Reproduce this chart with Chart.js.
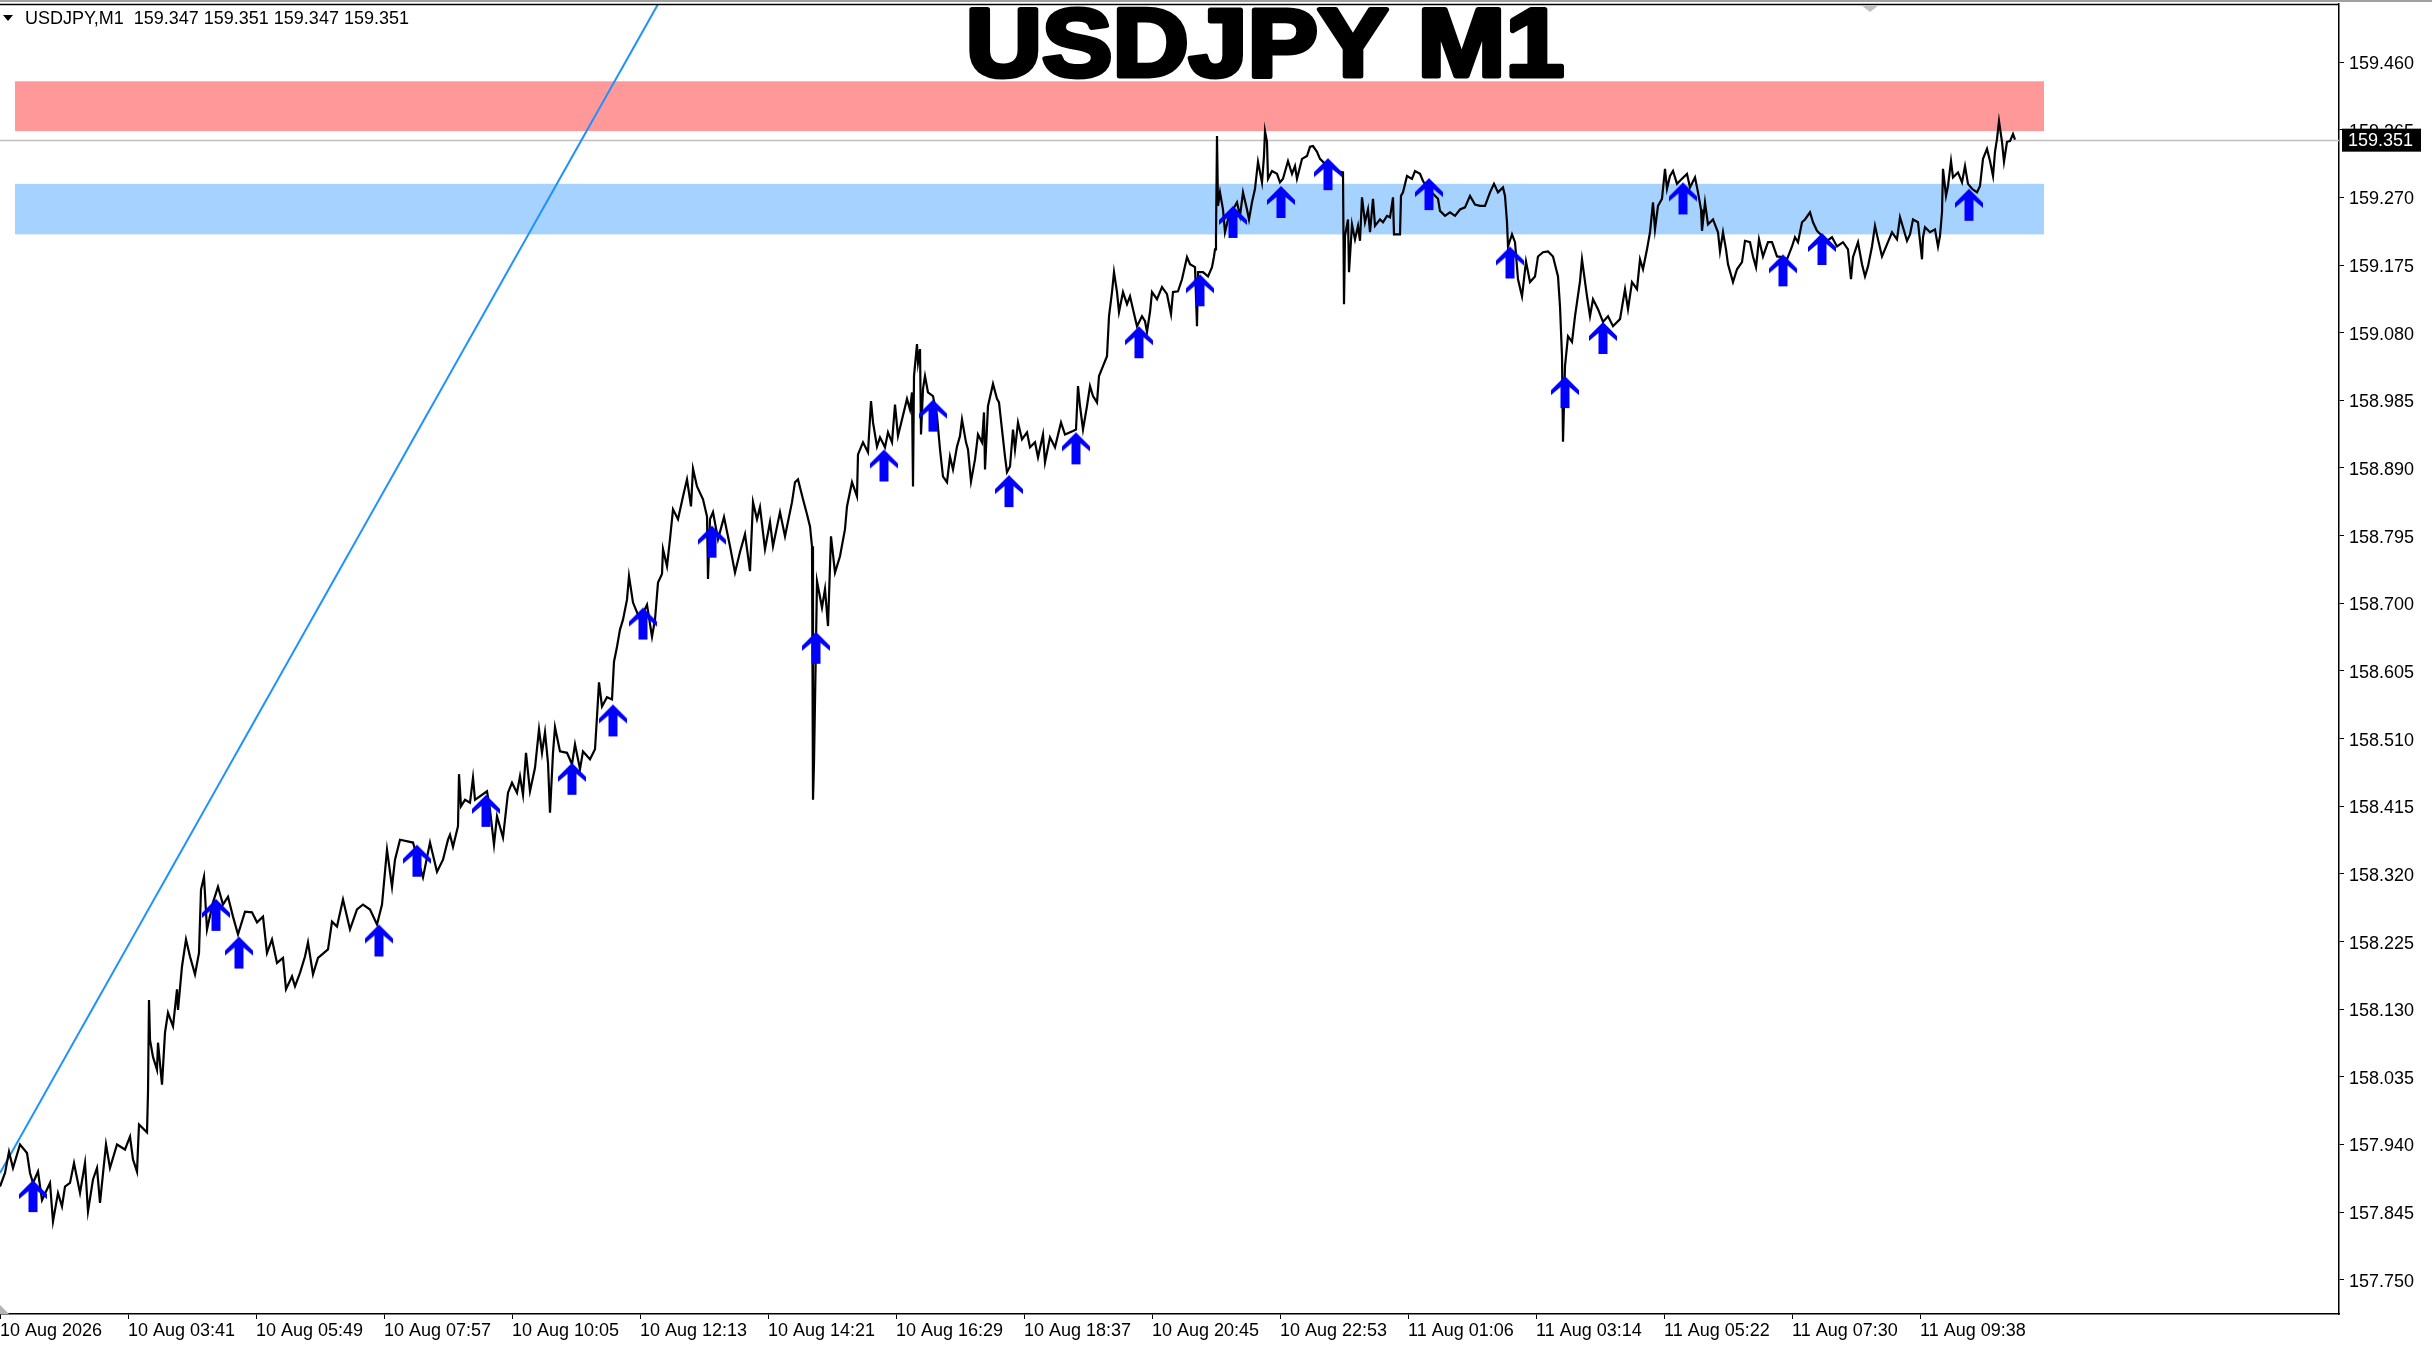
<!DOCTYPE html>
<html>
<head>
<meta charset="utf-8">
<title>USDJPY M1</title>
<script src="https://cdn.jsdelivr.net/npm/chart.js@4.4.1/dist/chart.umd.min.js"></script>
<style>
  html, body { margin: 0; padding: 0; background: #fff; overflow: hidden; }
  #wrap { position: relative; width: 2432px; height: 1348px; }
</style>
</head>
<body>
<div id="wrap"><canvas id="usdjpy-chart"></canvas></div>
<script>
// x values are minutes from the first bar (1 bar per minute)
const timeTicks = [0, 128, 256, 384, 512, 640, 768, 896, 1024, 1152, 1280, 1408, 1536, 1664, 1792, 1920];
const timeLabels = [
  "10 Aug 2026", "10 Aug 03:41", "10 Aug 05:49", "10 Aug 07:57", "10 Aug 10:05",
  "10 Aug 12:13", "10 Aug 14:21", "10 Aug 16:29", "10 Aug 18:37", "10 Aug 20:45",
  "10 Aug 22:53", "11 Aug 01:06", "11 Aug 03:14", "11 Aug 05:22", "11 Aug 07:30",
  "11 Aug 09:38"
];
const priceTicks = [
  157.750, 157.845, 157.940, 158.035, 158.130, 158.225, 158.320, 158.415, 158.510, 158.605,
  158.700, 158.795, 158.890, 158.985, 159.080, 159.175, 159.270, 159.365, 159.460
];

// price trace
const traceMinutes = [
  // 10 Aug early
  0,5,9,13,20,27,30,33,38,42,
  50,53,58,62,65,70,74,80,85,88,
  93,97,100,106,110,117,125,130,133,137,
  139,147,148,149,150,153,157,158,162,165,
  168,173,177,178,182,186,190,195,199,201,
  204,207,213,218,223,228,233,238,245,252,
  257,263,267,272,277,283,286,292,295,300,
  305,308,313,318,328,332,337,343,350,357,
  363,370,377,382,387,392,395,400,413,423,
  430,437,443,448,
  // 10 Aug midday
  450,453,458,459,461,465,470,473,475,487,
  490,494,497,503,508,512,517,520,523,526,
  530,535,539,542,545,548,550,553,555,560,
  567,572,575,580,583,590,595,597,599,602,
  607,612,614,617,620,623,627,629,633,640,
  647,652,655,658,662,663,667,670,673,678,
  683,687,691,693,697,703,707,708,710,713,
  718,724,730,735,740,745,750,753,757,760,
  765,770,773,780,785,792,795,798,803,807,
  810,812,813,814,817,822,825,828,831,835,
  840,845,847,852,857,858,863,868,
  // 10 Aug afternoon / evening
  871,873,877,880,885,888,892,895,898,902,
  907,910,912,913,914,917,918,920,921,923,
  925,928,933,937,940,943,947,950,953,957,
  960,962,966,968,971,975,978,982,984,985,
  988,993,997,999,1002,1005,1007,1010,1013,1015,
  1018,1022,1027,1030,1035,1038,1043,1045,1050,1055,
  1061,1065,1073,1076,1078,1080,1083,1087,1090,1093,
  1097,1099,1103,1107,1109,1112,1114,1117,1119,1123,
  1127,1130,1133,1137,1142,1145,1147,1150,1152,1157,
  1162,1167,1171,1173,1178,1182,1187,1190,1195,1197,
  1198,1203,1208,1212,1214,
  // 10 Aug night / 11 Aug early
  1215,1216,1217,1218,1220,1223,1225,1228,1233,1237,
  1240,1243,1247,1249,1252,1255,1258,1262,1264,1265,
  1267,1268,1272,1277,1280,1283,1288,1292,1295,1297,
  1302,1307,1310,1313,1317,1320,1325,1332,1337,1343,
  1344,1345,1348,1349,1352,1355,1358,1360,1362,1365,
  1368,1370,1373,1375,1380,1383,1387,1390,1393,1394,
  1400,1401,1403,1407,1412,1415,1420,1423,1428,1433,
  1438,1440,1445,1450,1455,1460,1465,1470,1475,1480,
  1485,1490,1494,1498,1503,1505,1507,1508,1512,1515,
  1518,1522,1526,1530,1535,1538,1543,1548,1553,1558,
  1560,1562,1563,1565,1568,1572,1575,1580,1582,1587,
  1590,1593,1598,1603,1608,1613,1620,1625,1628,1632,
  1637,1640,
  // 11 Aug morning
  1643,1647,1650,1653,1655,1658,1662,1665,1667,1670,
  1673,1677,1682,1687,1690,1695,1698,1701,1702,1705,
  1708,1713,1718,1720,1723,1726,1728,1733,1737,1742,
  1745,1750,1753,1756,1759,1763,1768,1772,1777,1782,
  1787,1792,1795,1798,1802,1805,1810,1813,1817,1822,
  1827,1832,1837,1843,1848,1851,1853,1858,1862,1865,
  1868,1872,1875,1878,1882,1887,1892,1897,1900,1903,
  1907,1910,1913,1918,1922,1923,1925,1930,1935,1938,
  1940,1942,1943,1946,1948,1951,1953,1958,1962,1965,
  1968,1972,1977,1980,1983,1987,1990,1993,1995,1997,
  1999,2002,2004,2007,2010,2013,2015
];
const tracePrices = [
  157.881,157.900,157.930,157.907,157.940,157.928,157.900,157.886,157.902,157.862,
  157.886,157.832,157.872,157.853,157.881,157.886,157.914,157.872,157.914,157.846,
  157.891,157.907,157.858,157.940,157.907,157.940,157.933,157.951,157.919,157.902,
  157.968,157.957,158.013,158.143,158.087,158.063,158.045,158.083,158.024,158.097,
  158.125,158.106,158.158,158.129,158.190,158.228,158.204,158.179,158.209,158.298,
  158.316,158.242,158.280,158.302,158.277,158.288,158.260,158.235,158.267,158.266,
  158.252,158.260,158.209,158.228,158.195,158.202,158.158,158.176,158.162,158.181,
  158.204,158.224,158.179,158.202,158.214,158.253,158.246,158.284,158.242,158.270,
  158.277,158.270,158.249,158.277,158.354,158.302,158.340,158.368,158.364,158.315,
  158.364,158.323,158.340,158.368,

  158.375,158.358,158.387,158.460,158.415,158.424,158.420,158.455,158.424,158.436,
  158.410,158.361,158.401,158.371,158.434,158.448,158.434,158.457,158.431,158.490,
  158.436,158.469,158.523,158.490,158.519,158.476,158.406,158.490,158.526,158.492,
  158.490,158.474,158.502,158.467,158.492,158.481,158.495,158.541,158.589,158.555,
  158.568,158.565,158.618,158.639,158.663,158.677,158.705,158.738,158.701,158.677,
  158.698,158.653,158.677,158.729,158.741,158.776,158.752,158.790,158.832,158.818,
  158.850,158.874,158.836,158.889,158.864,158.846,158.822,158.734,158.818,158.828,
  158.790,158.821,158.780,158.743,158.772,158.797,158.745,158.842,158.818,158.835,
  158.776,158.814,158.780,158.828,158.794,158.842,158.870,158.874,158.846,158.825,
  158.808,158.780,158.424,158.476,158.731,158.694,158.720,158.668,158.794,158.743,
  158.766,158.804,158.836,158.870,158.850,158.909,158.926,158.912,

  158.984,158.954,158.920,158.933,158.919,158.940,158.926,158.979,158.935,158.958,
  158.987,158.972,158.996,158.864,159.019,159.064,159.038,159.057,158.937,159.001,
  159.019,158.996,158.991,158.963,158.916,158.878,158.870,158.906,158.888,158.920,
  158.935,158.958,158.926,158.916,158.871,158.902,158.937,158.926,158.968,158.888,
  158.977,159.008,158.987,158.982,158.944,158.906,158.884,158.892,158.944,158.916,
  158.954,158.930,158.940,158.919,158.926,158.905,158.937,158.898,158.933,158.919,
  158.954,158.937,158.942,158.944,159.005,158.977,158.944,158.977,159.005,158.991,
  158.982,159.019,159.033,159.047,159.103,159.137,159.165,159.137,159.109,159.137,
  159.120,159.131,159.113,159.089,159.103,159.096,159.081,159.109,159.137,159.127,
  159.144,159.134,159.106,159.137,159.138,159.155,159.186,159.176,159.172,159.089,
  159.165,159.165,159.159,159.172,159.187,

  159.197,159.216,159.356,159.258,159.277,159.253,159.221,159.239,159.253,159.263,
  159.244,159.277,159.253,159.239,159.263,159.282,159.320,159.291,159.328,159.363,
  159.348,159.296,159.307,159.303,159.291,159.296,159.321,159.303,159.314,159.296,
  159.324,159.328,159.341,159.342,159.334,159.324,159.317,159.312,159.307,159.305,
  159.120,159.216,159.239,159.165,159.232,159.211,159.230,159.209,159.270,159.235,
  159.253,159.221,159.268,159.230,159.239,159.235,159.244,159.242,159.270,159.218,
  159.218,159.272,159.277,159.300,159.296,159.307,159.303,159.293,159.282,159.275,
  159.268,159.251,159.244,159.249,159.244,159.253,159.256,159.272,159.260,159.258,
  159.258,159.277,159.289,159.277,159.284,159.272,159.235,159.201,159.218,159.207,
  159.155,159.131,159.180,159.151,159.159,159.187,159.193,159.194,159.187,159.159,
  159.117,159.047,158.927,159.033,159.075,159.067,159.103,159.152,159.183,159.131,
  159.103,159.127,159.113,159.095,159.103,159.089,159.099,159.141,159.113,159.151,
  159.141,159.183,

  159.169,159.197,159.221,159.263,159.225,159.258,159.268,159.310,159.282,159.300,
  159.307,159.289,159.296,159.303,159.284,159.298,159.277,159.253,159.223,159.263,
  159.232,159.239,159.221,159.194,159.221,159.197,159.176,159.151,159.169,159.179,
  159.209,159.207,159.187,159.172,159.211,159.187,159.207,159.207,159.187,159.186,
  159.183,159.201,159.214,159.207,159.235,159.239,159.249,159.235,159.223,159.216,
  159.209,159.214,159.201,159.207,159.197,159.155,159.186,159.207,159.176,159.159,
  159.173,159.201,159.230,159.211,159.187,159.204,159.221,159.211,159.242,159.228,
  159.209,159.218,159.239,159.235,159.183,159.214,159.228,159.221,159.225,159.201,
  159.216,159.249,159.310,159.272,159.286,159.321,159.298,159.305,159.291,159.314,
  159.289,159.282,159.277,159.286,159.324,159.338,159.321,159.300,159.334,159.352,
  159.377,159.348,159.320,159.348,159.349,159.359,159.351
];

// buy arrows (tip sits at the price)
const arrowMinutes = [33, 216, 239, 379, 417, 486, 572, 613, 643, 712, 816, 884, 933, 1009,
  1076, 1139, 1200, 1233, 1281, 1328, 1429, 1510, 1565, 1603, 1683, 1783, 1822, 1969];
const arrowPrices = [157.890, 158.285, 158.232, 158.249, 158.361, 158.431, 158.476, 158.558,
  158.694, 158.809, 158.660, 158.916, 158.986, 158.880, 158.940, 159.089, 159.162, 159.258,
  159.286, 159.325, 159.297, 159.201, 159.019, 159.095, 159.291, 159.190, 159.220, 159.282];

// trend line anchors
const trendMinutes = [0, 700];
const trendPrices = [157.900, 159.646];

// supply / demand zones
const zoneFrom = [15, 15];
const zoneTo = [2044, 2044];
const zoneHigh = [159.433, 159.289];
const zoneLow = [159.363, 159.218];

const lastPrice = 159.351;
const infoText = "USDJPY,M1  159.347 159.351 159.347 159.351";
const titleText = "USDJPY M1";

const FONT = '"Liberation Sans", Arial, sans-serif';

// blue up arrow used as point style, tip at the canvas centre
const arrowImg = document.createElement("canvas");
arrowImg.width = 32;
arrowImg.height = 68;
(() => {
  const a = arrowImg.getContext("2d");
  const cx = 16, ty = 34;
  a.fillStyle = "#0000ff";
  a.beginPath();
  a.moveTo(cx, ty);
  a.lineTo(cx + 14, ty + 14);
  a.lineTo(cx + 14, ty + 19);
  a.lineTo(cx + 4.5, ty + 11);
  a.lineTo(cx + 4.5, ty + 32);
  a.lineTo(cx - 4.5, ty + 32);
  a.lineTo(cx - 4.5, ty + 11);
  a.lineTo(cx - 14, ty + 19);
  a.lineTo(cx - 14, ty + 14);
  a.closePath();
  a.fill();
})();

const toPoints = (xs, ys) => xs.map((x, i) => ({ x: x, y: ys[i] }));

const zonesPlugin = {
  id: "zones",
  beforeDraw: (chart) => {
    const c = chart.ctx;
    c.save();
    c.fillStyle = "#ffffff";
    c.fillRect(0, 0, chart.width, chart.height);
    c.restore();
  },
  beforeDatasetsDraw: (chart) => {
    const { ctx: c, chartArea: area, scales } = chart;
    const colors = ["#ff9999", "#a6d2ff"];
    c.save();
    zoneFrom.forEach((from, i) => {
      const x1 = scales.x.getPixelForValue(from);
      const x2 = scales.x.getPixelForValue(zoneTo[i]);
      const y1 = scales.y.getPixelForValue(zoneHigh[i]);
      const y2 = scales.y.getPixelForValue(zoneLow[i]);
      c.fillStyle = colors[i];
      c.fillRect(x1, y1, x2 - x1, y2 - y1);
    });
    // last price line
    const yl = Math.round(scales.y.getPixelForValue(lastPrice)) + 0.5;
    c.strokeStyle = "#c0c0c0";
    c.lineWidth = 1.5;
    c.beginPath();
    c.moveTo(area.left, yl);
    c.lineTo(area.right, yl);
    c.stroke();
    c.restore();
  },
  afterDraw: (chart) => {
    const { ctx: c, chartArea: area, scales } = chart;
    c.save();
    // window frame
    c.fillStyle = "#a0a0a0";
    c.fillRect(0, 0, chart.width, 2);
    c.strokeStyle = "#000";
    c.lineWidth = 1.5;
    c.beginPath();
    c.moveTo(area.left, area.top + 0.5);
    c.lineTo(area.right, area.top + 0.5);
    c.stroke();
    // chart shift markers
    c.fillStyle = "#c0c0c0";
    c.beginPath();
    c.moveTo(1861, area.top + 1);
    c.lineTo(1879, area.top + 1);
    c.lineTo(1870, area.top + 8);
    c.fill();
    c.fillStyle = "#b4b4b4";
    c.beginPath();
    c.moveTo(0, area.bottom - 9);
    c.lineTo(9, area.bottom);
    c.lineTo(0, area.bottom);
    c.fill();

    // info line
    c.fillStyle = "#000";
    c.beginPath();
    c.moveTo(3, 15);
    c.lineTo(13, 15);
    c.lineTo(8, 21);
    c.fill();
    c.font = "18px " + FONT;
    c.textBaseline = "middle";
    c.textAlign = "left";
    c.fillText(infoText, 25, 19);

    // big title
    c.save();
    c.translate(1265, 76);
    c.scale(1.1, 1);
    c.font = "bold 96px " + FONT;
    c.textAlign = "center";
    c.textBaseline = "alphabetic";
    c.lineWidth = 5;
    c.lineJoin = "round";
    c.strokeStyle = "#000";
    c.fillText(titleText, 0, 0);
    c.strokeText(titleText, 0, 0);
    c.restore();

    // current price box
    const yp = scales.y.getPixelForValue(lastPrice);
    c.fillStyle = "#000";
    c.fillRect(area.right + 3, yp - 11, 79, 23);
    c.fillStyle = "#fff";
    c.font = "18px " + FONT;
    c.textBaseline = "middle";
    c.fillText(lastPrice.toFixed(3), area.right + 9, yp + 1);
    c.restore();
  },
};

const ctx = document.getElementById("usdjpy-chart").getContext("2d");

const chart = new Chart(ctx, {
  type: "line",
  data: {
    datasets: [
      {
        label: "signals",
        type: "scatter",
        data: toPoints(arrowMinutes, arrowPrices),
        pointStyle: arrowImg,
        pointRadius: 12,
        showLine: false,
        order: 0,
      },
      {
        label: "USDJPY",
        data: toPoints(traceMinutes, tracePrices),
        borderColor: "#000000",
        borderWidth: 2.2,
        pointRadius: 0,
        tension: 0,
        order: 1,
      },
      {
        label: "trend",
        data: toPoints(trendMinutes, trendPrices),
        borderColor: "#1e90ff",
        borderWidth: 2,
        pointRadius: 0,
        order: 2,
      },
    ],
  },
  options: {
    responsive: true,
    maintainAspectRatio: false,
    devicePixelRatio: 1,
    animation: false,
    events: [],
    layout: { autoPadding: false, padding: { top: 4, left: 0, right: 0, bottom: 0 } },
    plugins: { legend: { display: false }, tooltip: { enabled: false } },
    scales: {
      x: {
        type: "linear",
        position: "bottom",
        min: 0,
        max: 2339,
        afterBuildTicks: (scale) => {
          scale.ticks = timeTicks.map((v) => ({ value: v }));
        },
        afterFit: (scale) => {
          scale.height = 34;
          scale.paddingLeft = 0;
          scale.paddingRight = 0;
        },
        ticks: {
          autoSkip: false,
          maxRotation: 0,
          minRotation: 0,
          align: "start",
          padding: 1,
          color: "#000",
          font: { family: FONT, size: 18 },
          callback: (value, index) => timeLabels[index],
        },
        grid: { drawOnChartArea: false, drawTicks: true, tickLength: 5, color: "#000" },
        border: { display: true, color: "#000", width: 1.5 },
      },
      y: {
        type: "linear",
        position: "right",
        min: 157.702,
        max: 159.5415,
        afterBuildTicks: (scale) => {
          scale.ticks = priceTicks.map((v) => ({ value: v }));
        },
        afterFit: (scale) => {
          scale.width = 93;
          scale.paddingTop = 0;
          scale.paddingBottom = 0;
        },
        ticks: {
          autoSkip: false,
          padding: 5,
          labelOffset: 2,
          color: "#000",
          font: { family: FONT, size: 18 },
          callback: (value) => value.toFixed(3),
        },
        grid: { drawOnChartArea: false, drawTicks: true, tickLength: 5, color: "#000" },
        border: { display: true, color: "#000", width: 1.5 },
      },
    },
  },
  plugins: [zonesPlugin],
});
</script>
</body>
</html>
